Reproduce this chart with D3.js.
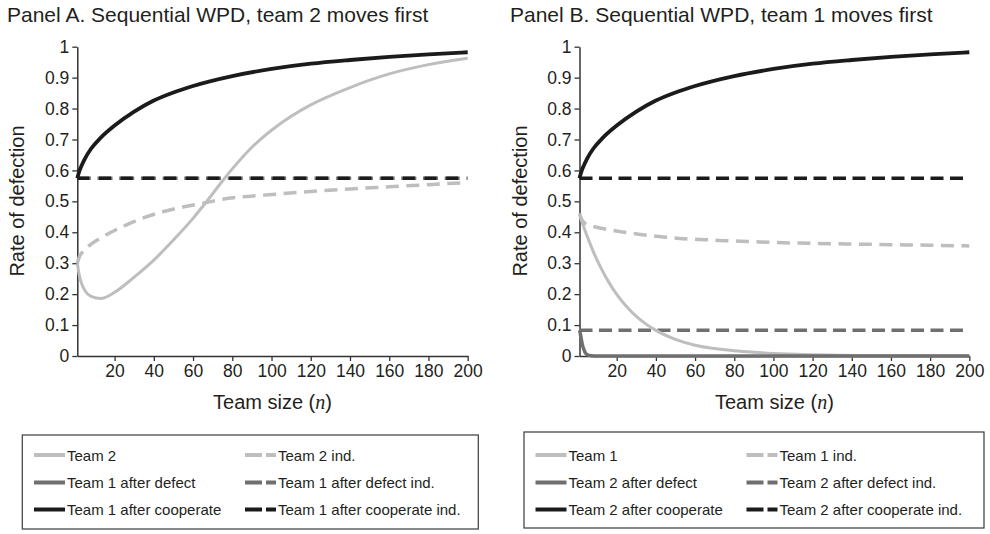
<!DOCTYPE html>
<html><head><meta charset="utf-8">
<script src="https://cdn.jsdelivr.net/npm/d3@7"></script>
<style>
html,body{margin:0;padding:0;background:#fff;}
svg{display:block;font-family:"Liberation Sans",Arial,Helvetica,sans-serif;}
</style></head>
<body><svg id="chart" width="990" height="534"></svg>
<script>
// ---------- data ----------
const xTicks = [20,40,60,80,100,120,140,160,180,200];
const yTicks = [0,0.1,0.2,0.3,0.4,0.5,0.6,0.7,0.8,0.9,1];
const yTickLabels = ["0","0.1","0.2","0.3","0.4","0.5","0.6","0.7","0.8","0.9","1"];

// Panel A
const nCoopA   = [1,2,3,4.7,8,13,20,30,40,50,60,80,100,120,140,160,180,200];
const coopA    = [0.575,0.597,0.613,0.636,0.67,0.706,0.745,0.79,0.826,0.852,0.873,0.905,0.928,0.945,0.957,0.967,0.975,0.982];
const nTeam2A  = [1,2,3,5,8,13,20,30,40,50,60,67,76,80,90,100,110,120,140,160,180,200];
const team2A   = [0.30,0.262,0.238,0.21,0.193,0.186,0.206,0.255,0.31,0.375,0.445,0.50,0.574,0.605,0.675,0.73,0.775,0.812,0.868,0.912,0.942,0.963];
const nTeam2IndA = [1,2,3.5,6,15,24,34,45,55,65,75,88,100,120,140,160,180,200];
const team2IndA  = [0.30,0.32,0.335,0.351,0.389,0.418,0.445,0.467,0.482,0.494,0.507,0.516,0.522,0.532,0.54,0.547,0.554,0.561];
const nFlat    = [1,200];
const coopIndA = [0.575,0.575];
const defIndA  = [0.575,0.575];

// Panel B
const nCoopB   = [1,2,3,4.7,8,13,20,30,40,50,60,80,100,120,140,160,180,200];
const coopB    = [0.575,0.597,0.613,0.636,0.67,0.706,0.745,0.79,0.826,0.852,0.873,0.905,0.928,0.945,0.957,0.967,0.975,0.982];
const nTeam1B  = [1,3,5,8,12,16,20,25,30,35,40,50,60,70,80,90,100,120,140,160,180,200];
const team1B   = [0.46,0.42,0.386,0.338,0.284,0.238,0.199,0.16,0.128,0.103,0.083,0.054,0.035,0.024,0.017,0.012,0.008,0.004,0.002,0.001,0.0005,0];
const nTeam1IndB = [1,2,3,5,8,13,22,32,42,52,62,75,88,100,120,140,160,180,200];
const team1IndB  = [0.461,0.443,0.434,0.425,0.419,0.412,0.402,0.393,0.386,0.38,0.377,0.373,0.37,0.367,0.364,0.362,0.36,0.358,0.356];
const nDefB    = [1,1.5,2,2.5,3,4,5,7,10,200];
const defB     = [0.083,0.07,0.052,0.036,0.025,0.01,0.004,0.001,0,0];
const coopIndB = [0.575,0.575];
const defIndB  = [0.083,0.083];

const legendA = ["Team 2","Team 2 ind.","Team 1 after defect","Team 1 after defect ind.","Team 1 after cooperate","Team 1 after cooperate ind."];
const legendB = ["Team 1","Team 1 ind.","Team 2 after defect","Team 2 after defect ind.","Team 2 after cooperate","Team 2 after cooperate ind."];
const titles = ["Panel A. Sequential WPD, team 2 moves first","Panel B. Sequential WPD, team 1 moves first"];

// ---------- styles ----------
const LIGHT = "#bebebe", MID = "#6f6f6f", DARK = "#1b1b1b";
const FONT = "\"Liberation Sans\",Arial,Helvetica,sans-serif";
const svg = d3.select("#chart");

function panel(cfg) {
  const x = d3.scaleLinear().domain([1,200]).range([cfg.x0, cfg.x1]);
  const y = d3.scaleLinear().domain([0,1]).range([356, 46.7]);
  const g = svg.append("g");

  // title
  g.append("text").attr("x", cfg.titleX).attr("y", 22)
    .attr("font-size", 21).attr("fill", "#231f20").text(cfg.title);

  // axes
  const ax = g.append("g").attr("transform", `translate(0,${y(0)})`)
    .call(d3.axisBottom(x).tickValues(xTicks).tickSize(5).tickPadding(4).tickSizeOuter(0));
  const ay = g.append("g").attr("transform", `translate(${x(1)},0)`)
    .call(d3.axisLeft(y).tickValues(yTicks).tickFormat((d,i)=>yTickLabels[i]).tickSize(5).tickPadding(3).tickSizeOuter(0));
  [ax, ay].forEach(a => {
    a.select(".domain").attr("stroke", "#333").attr("stroke-width", 1.5);
    a.selectAll(".tick line").attr("stroke", "#333").attr("stroke-width", 1.3);
    a.selectAll(".tick text").attr("font-size", 17.5).attr("font-family", FONT).attr("fill", "#231f20");
  });

  // axis titles
  g.append("text").attr("transform", `translate(${cfg.yLabelX},201) rotate(-90)`)
    .attr("text-anchor", "middle").attr("dominant-baseline", "central")
    .attr("font-size", 20).attr("fill", "#231f20").text("Rate of defection");
  const xt = g.append("text").attr("x", (cfg.x0+cfg.x1)/2).attr("y", 409)
    .attr("text-anchor", "middle").attr("font-size", 20).attr("fill", "#231f20");
  xt.append("tspan").text("Team size (");
  xt.append("tspan").attr("font-family", "\"Liberation Serif\",\"Times New Roman\",serif").attr("font-style", "italic").text("n");
  xt.append("tspan").text(")");

  // lines
  const line = d3.line().x(d => x(d[0])).y(d => y(d[1])).curve(d3.curveMonotoneX);
  cfg.series.forEach(s => {
    g.append("path").datum(s.n.map((v,i)=>[v, s.v[i]]))
      .attr("d", line).attr("fill", "none")
      .attr("stroke", s.color).attr("stroke-width", s.w)
      .attr("stroke-dasharray", s.dash || null)
      .attr("stroke-dashoffset", s.off || 0);
  });

  // legend
  const L = cfg.legend;
  g.append("rect").attr("x", L.x).attr("y", L.y).attr("width", L.w).attr("height", L.h)
    .attr("fill", "none").attr("stroke", "#3a3a3a").attr("stroke-width", 1.2);
  const colors = [LIGHT, LIGHT, MID, MID, DARK, DARK];
  cfg.legendLabels.forEach((lab, i) => {
    const col = i % 2, row = Math.floor(i / 2);
    const lx = L.cols[col], ly = L.rows[row];
    g.append("line").attr("x1", lx).attr("x2", lx + 31).attr("y1", ly).attr("y2", ly)
      .attr("stroke", colors[i]).attr("stroke-width", 4)
      .attr("stroke-dasharray", col === 1 ? "17,4" : null);
    g.append("text").attr("x", lx + 33).attr("y", ly + 5.5)
      .attr("font-size", 15).attr("fill", "#231f20").text(lab);
  });
}

panel({
  x0: 77.3, x1: 467.7, titleX: 7, yLabelX: 17, title: titles[0],
  series: [
    {n: nFlat, v: defIndA, color: MID, w: 3.5, dash: "15,6.7", off: 1.5},
    {n: nFlat, v: coopIndA, color: DARK, w: 3.5, dash: "12,9.7"},
    {n: nTeam2IndA, v: team2IndA, color: LIGHT, w: 3.5, dash: "13,7.5"},
    {n: nTeam2A, v: team2A, color: LIGHT, w: 3},
    {n: nCoopA, v: coopA, color: DARK, w: 3.8}
  ],
  legend: {x: 22.3, y: 435, w: 456, h: 94, cols: [34, 245], rows: [455, 482.5, 509.5]},
  legendLabels: legendA
});

panel({
  x0: 579.5, x1: 969.3, titleX: 510, yLabelX: 520, title: titles[1],
  series: [
    {n: nFlat, v: defIndB, color: MID, w: 3.5, dash: "13,6.5"},
    {n: nFlat, v: coopIndB, color: DARK, w: 3.5, dash: "13,6.5"},
    {n: nTeam1IndB, v: team1IndB, color: LIGHT, w: 3.5, dash: "13,7.5"},
    {n: nTeam1B, v: team1B, color: LIGHT, w: 3},
    {n: nDefB, v: defB, color: MID, w: 3.5},
    {n: nCoopB, v: coopB, color: DARK, w: 3.8}
  ],
  legend: {x: 524, y: 432, w: 460, h: 96, cols: [535.5, 746.5], rows: [455, 482.5, 509.5]},
  legendLabels: legendB
});
</script></body></html>
